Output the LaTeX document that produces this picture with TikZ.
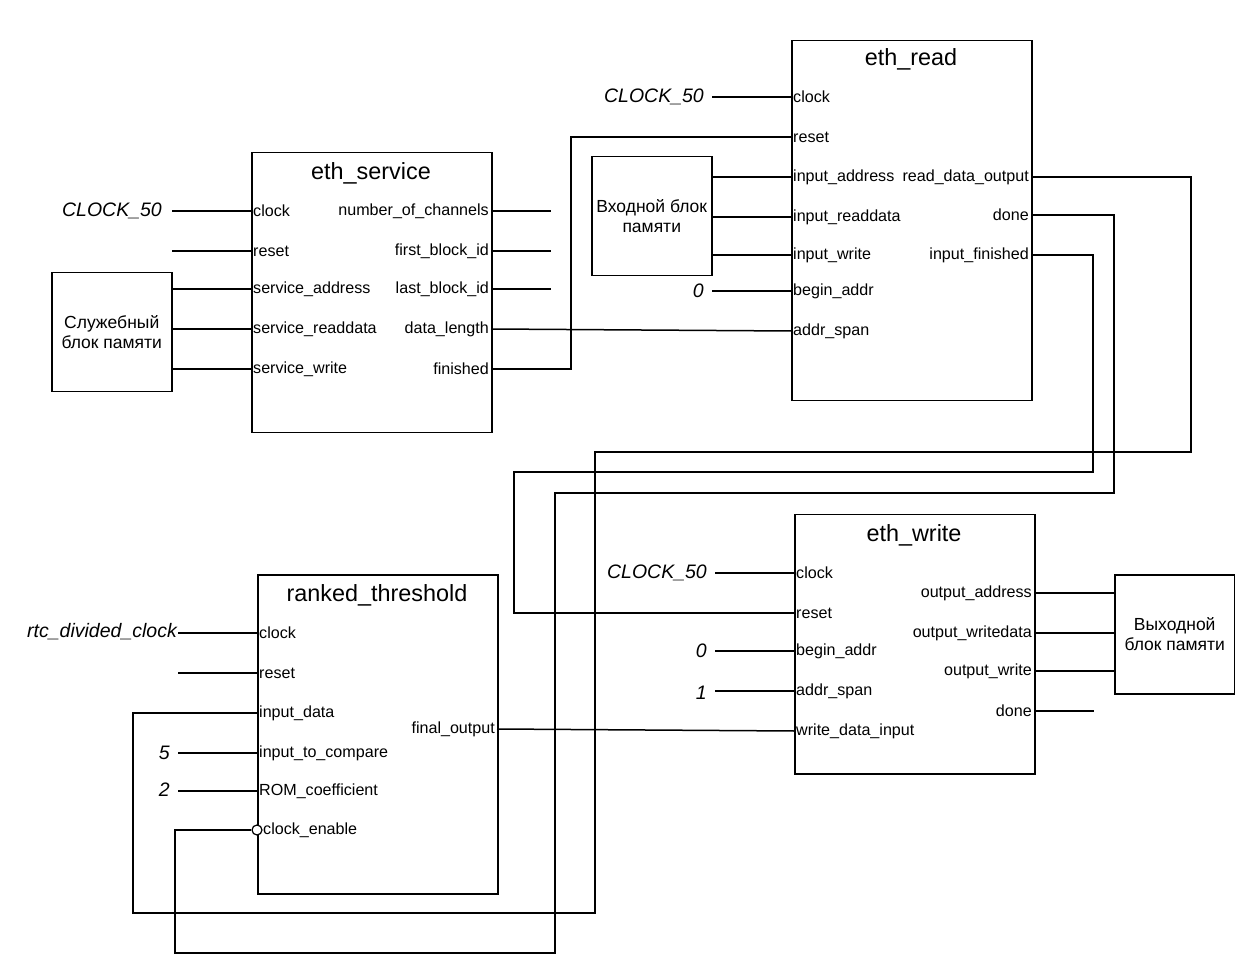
\documentclass[tikz,border=0pt]{standalone}
\usepackage{fontspec}
\setmainfont{Liberation Sans}
\newcommand\lport[4]{\coordinate (#1) at (#2,#3); \node[port,anchor=west] (#1-l) at (#1) {#4};}
\newcommand\rport[4]{\coordinate (#1) at (#2,#3); \node[port,anchor=east] (#1-l) at (#1) {#4};}
\tikzset{
  blk/.style={draw, line width=1.5pt, inner sep=0pt, anchor=north west},
  port/.style={font=\fontsize{16.1}{18}\selectfont, inner sep=2pt},
  ttl/.style={font=\fontsize{23.4}{28}\selectfont, inner sep=0pt},
  sig/.style={font=\fontsize{19.5}{23}\selectfont\itshape, inner sep=0pt, anchor=east},
  memtxt/.style={font=\fontsize{17.5}{20}\selectfont, align=center, inner sep=0pt},
  wire/.style={line width=1.5pt},
}
\begin{document}
\begin{tikzpicture}[x=1pt,y=-1pt]
\useasboundingbox (0,0) rectangle (1235,957);

% ---------------- eth_service ----------------
\node[blk, minimum width=240, minimum height=280] (es) at (251,152) {};
\node[ttl] (es-t) at (371,173) {eth\_service};
\lport{es-clk}{251}{211}{clock}
\lport{es-rst}{251}{251}{reset}
\lport{es-sa}{251}{289}{service\_address}
\lport{es-sr}{251}{329}{service\_readdata}
\lport{es-sw}{251}{369}{service\_write}
\rport{es-nc}{491}{211}{number\_of\_channels}
\rport{es-fb}{491}{251}{first\_block\_id}
\rport{es-lb}{491}{289}{last\_block\_id}
\rport{es-dl}{491}{329}{data\_length}
\rport{es-fin}{491}{369}{finished}
\coordinate (es-nc-e) at (551,211);
\coordinate (es-fb-e) at (551,251);
\coordinate (es-lb-e) at (551,289);
\draw[wire] (es-nc) -- (es-nc-e);
\draw[wire] (es-fb) -- (es-fb-e);
\draw[wire] (es-lb) -- (es-lb-e);
\node[sig] (c50a) at (162,211) {CLOCK\_50};
\coordinate (c50a-e) at (172,211);
\draw[wire] (c50a-e) -- (es-clk);
\coordinate (es-rst-e) at (172,251);
\draw[wire] (es-rst-e) -- (es-rst);
\node[blk, minimum width=120, minimum height=119] (smem) at (51,272) {};
\node[memtxt] (smem-t) at (smem.center) {Служебный\\блок памяти};
\draw[wire] (smem.east |- es-sa) -- (es-sa);
\draw[wire] (smem.east |- es-sr) -- (es-sr);
\draw[wire] (smem.east |- es-sw) -- (es-sw);

% ---------------- eth_read ----------------
\node[blk, minimum width=240, minimum height=360] (er) at (791,40) {};
\node[ttl] (er-t) at (911,59) {eth\_read};
\lport{er-clk}{791}{97}{clock}
\lport{er-rst}{791}{137}{reset}
\lport{er-ia}{791}{177}{input\_address}
\lport{er-ir}{791}{217}{input\_readdata}
\lport{er-iw}{791}{255}{input\_write}
\lport{er-ba}{791}{291}{begin\_addr}
\lport{er-as}{791}{331}{addr\_span}
\rport{er-rdo}{1031}{177}{read\_data\_output}
\rport{er-done}{1031}{215}{done}
\rport{er-if}{1031}{255}{input\_finished}
\node[sig] (c50b) at (704,97) {CLOCK\_50};
\coordinate (c50b-e) at (712,97);
\draw[wire] (c50b-e) -- (er-clk);
\node[sig] (zb) at (704,291) {0};
\coordinate (zb-e) at (712,291);
\draw[wire] (zb-e) -- (er-ba);
\node[blk, minimum width=120, minimum height=119] (imem) at (591,156) {};
\node[memtxt] (imem-t) at (imem.center) {Входной блок\\памяти};
\draw[wire] (imem.east |- er-ia) -- (er-ia);
\draw[wire] (imem.east |- er-ir) -- (er-ir);
\draw[wire] (imem.east |- er-iw) -- (er-iw);
\draw[wire] (es-dl) -- (er-as);
\draw[wire] (es-fin) -- (571,369) -- (571,137) -- (er-rst);

% ---------------- eth_write ----------------
\node[blk, minimum width=240, minimum height=259] (ew) at (794,514) {};
\node[ttl] (ew-t) at (914,535) {eth\_write};
\lport{ew-clk}{794}{573}{clock}
\lport{ew-rst}{794}{613}{reset}
\lport{ew-ba}{794}{651}{begin\_addr}
\lport{ew-as}{794}{691}{addr\_span}
\lport{ew-wdi}{794}{731}{write\_data\_input}
\rport{ew-oa}{1034}{593}{output\_address}
\rport{ew-ow}{1034}{633}{output\_writedata}
\rport{ew-owr}{1034}{671}{output\_write}
\rport{ew-done}{1034}{711}{done}
\node[sig] (c50c) at (707,573) {CLOCK\_50};
\coordinate (c50c-e) at (715,573);
\draw[wire] (c50c-e) -- (ew-clk);
\node[sig] (zc) at (707,651) {0};
\coordinate (zc-e) at (715,651);
\draw[wire] (zc-e) -- (ew-ba);
\node[sig] (oc) at (707,693) {1};
\coordinate (oc-e) at (715,691);
\draw[wire] (oc-e) -- (ew-as);
\coordinate (ew-done-e) at (1094,711);
\draw[wire] (ew-done) -- (ew-done-e);
\node[blk, minimum width=120, minimum height=119] (omem) at (1114,574) {};
\node[memtxt] (omem-t) at (omem.center) {Выходной\\блок памяти};
\draw[wire] (ew-oa) -- (omem.west |- ew-oa);
\draw[wire] (ew-ow) -- (omem.west |- ew-ow);
\draw[wire] (ew-owr) -- (omem.west |- ew-owr);

% ---------------- ranked_threshold ----------------
\node[blk, minimum width=240, minimum height=319] (rt) at (257,574) {};
\node[ttl] (rt-t) at (377,595) {ranked\_threshold};
\lport{rt-clk}{257}{633}{clock}
\lport{rt-rst}{257}{673}{reset}
\lport{rt-in}{257}{713}{input\_data}
\lport{rt-itc}{257}{753}{input\_to\_compare}
\lport{rt-rom}{257}{791}{ROM\_coefficient}
\coordinate (rt-ce) at (257,830);
\node[port,anchor=west] (rt-ce-l) at (261,830) {clock\_enable};
\rport{rt-fo}{497}{729}{final\_output}
\node[sig] (rtc) at (177,632) {rtc\_divided\_clock};
\coordinate (rtc-e) at (178,633);
\draw[wire] (rtc-e) -- (rt-clk);
\coordinate (rt-rst-e) at (178,673);
\draw[wire] (rt-rst-e) -- (rt-rst);
\node[sig] (five) at (170,753) {5};
\coordinate (five-e) at (178,753);
\draw[wire] (five-e) -- (rt-itc);
\node[sig] (two) at (170,790) {2};
\coordinate (two-e) at (178,791);
\draw[wire] (two-e) -- (rt-rom);
\draw[wire] (rt-fo) -- (ew-wdi);

% ---------------- long connections ----------------
\draw[wire] (er-rdo) -- (1191,177) -- (1191,452) -- (595,452) -- (595,913) -- (133,913) -- (133,713) -- (rt-in);
\draw[wire] (er-if) -- (1093,255) -- (1093,472) -- (514,472) -- (514,613) -- (ew-rst);
\node[circle, draw, fill=white, line width=1.2pt, minimum size=10, inner sep=0pt] (rt-inv) at (rt-ce) {};
\draw[wire] (er-done) -- (1114,215) -- (1114,493) -- (555,493) -- (555,953) -- (175,953) -- (175,830) -- (rt-inv.west);
\end{tikzpicture}
\end{document}
